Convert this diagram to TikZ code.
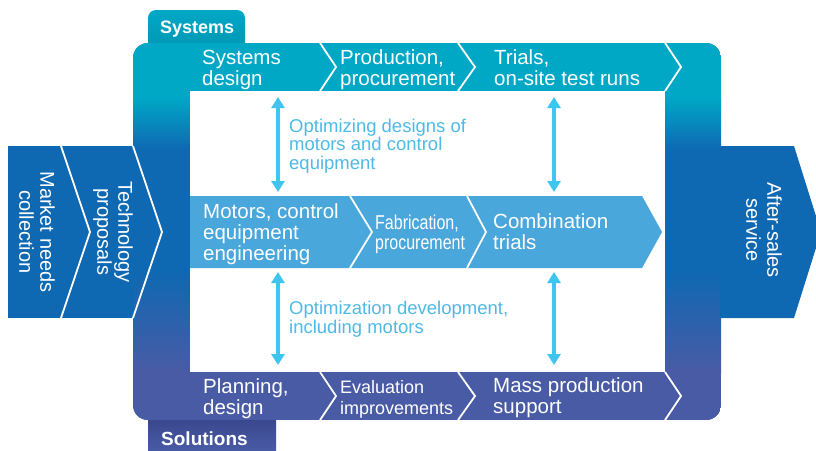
\documentclass[tikz,border=0pt]{standalone}
\usepackage{fontspec}
\setmainfont{Liberation Sans}
\newfontfamily\narrowfont[FakeStretch=0.8]{Liberation Sans}
\usetikzlibrary{arrows.meta}
\definecolor{systeal}{RGB}{0,168,198}
\definecolor{sysdark}{RGB}{0,148,176}
\definecolor{colblue}{RGB}{14,104,178}
\definecolor{solpurple}{RGB}{74,91,166}
\definecolor{soldark}{RGB}{58,72,142}
\definecolor{midblue}{RGB}{74,167,220}
\definecolor{arrowblue}{RGB}{62,197,240}
\definecolor{notetext}{RGB}{78,186,230}
\begin{document}
\begin{tikzpicture}[x=1pt, y=-1pt,
    lbl/.style={font=\fontsize{20.5}{21}\selectfont, text=white, align=left, inner sep=0pt, anchor=base west},
    vlbl/.style={font=\fontsize{20}{21}\selectfont, text=white, align=center, inner sep=0pt, rotate=-90},
    note/.style={font=\fontsize{18.5}{18.5}\selectfont, text=notetext, align=left, inner sep=0pt, anchor=base west},
    tablbl/.style={font=\bfseries\fontsize{18}{18}\selectfont, text=white, inner sep=0pt, anchor=base west},
    sep/.style={draw=white, line width=1.8pt},
    dbl/.style={{Triangle[width=13pt,length=11pt]}-{Triangle[width=13pt,length=11pt]}, line width=4.5pt, draw=arrowblue}]
    \useasboundingbox (0,0) rectangle (816,450);
    % tab on top
    \shade[top color=systeal, bottom color=sysdark, rounded corners=8pt] (148,10) rectangle (245,55);
    % frame with its colour bands
    \begin{scope}
        \clip[rounded corners=15pt] (133,43) rectangle (721,420);
        \fill[colblue] (133,43) rectangle (721,420);
        \fill[systeal] (133,43) rectangle (721,97);
        \shade[top color=systeal, bottom color=colblue] (133,97) rectangle (721,150);
        \shade[top color=colblue, bottom color=solpurple] (133,270) rectangle (721,372);
        \fill[solpurple] (133,372) rectangle (721,420);
    \end{scope}
    \fill[white] (190,91) rectangle (665,372);
    % tab below
    \shade[top color=soldark, bottom color=solpurple] (148,420) rectangle (276,452);
    % arrows in and out
    \fill[colblue] (8,146) rectangle (134,318);
    \fill[colblue] (720,146) -- (794,146) -- (821,232) -- (794,318) -- (720,318) -- cycle;
    % middle row
    \fill[midblue] (190,196) -- (642,196) -- (662,232) -- (642,268) -- (190,268) -- cycle;
    % white separators
    \foreach \a/\b in {320/336, 458/475, 665/681} {
        \draw[sep] (\a,43) -- (\b,67) -- (\a,91);
        \draw[sep] (\a,372) -- (\b,396) -- (\a,420);
    }
    \foreach \a/\b in {350/372, 467/486}
        \draw[sep] (\a,196) -- (\b,232) -- (\a,268);
    \foreach \a/\b in {61/90, 133/162}
        \draw[sep] (\a,146) -- (\b,232) -- (\a,318);
    % labels
    \node[tablbl] (systab) at (160,33) {Systems};
    \node[tablbl, font=\bfseries\fontsize{19}{19}\selectfont] (soltab) at (161,445) {Solutions};
    \node[lbl] (sysdes) at (202,85) {Systems\\design};
    \node[lbl] (prod) at (340,85) {Production,\\procurement};
    \node[lbl] (trials) at (494,85) {Trials,\\on-site test runs};
    \node[lbl] (motors) at (203,260) {Motors, control\\equipment\\engineering};
    \node[lbl, font=\narrowfont\fontsize{20}{20}\selectfont] (fab) at (375,249) {Fabrication,\\procurement};
    \node[lbl] (comb) at (493,249) {Combination\\trials};
    \node[lbl] (plan) at (203,414) {Planning,\\design};
    \node[lbl, font=\fontsize{18}{21}\selectfont] (eval) at (340,414) {Evaluation\\improvements};
    \node[lbl] (mass) at (493,413) {Mass production\\support};
    \node[vlbl] (market) at (37,232) {Market needs\\collection};
    \node[vlbl] (tech) at (113,232) {Technology\\proposals};
    \node[vlbl] (after) at (764,230) {After-sales\\service};
    \node[note] (optdes) at (289,169) {Optimizing designs of\\motors and control\\equipment};
    \node[note] (optdev) at (289,333) {Optimization development,\\including motors};
    % double arrows
    \coordinate (lt1) at (278,97);  \coordinate (lb1) at (278,192);
    \coordinate (lt2) at (278,272); \coordinate (lb2) at (278,365);
    \coordinate (rt1) at (554,97);  \coordinate (rb1) at (554,192);
    \coordinate (rt2) at (554,272); \coordinate (rb2) at (554,365);
    \draw[dbl] (lt1) -- (lb1);
    \draw[dbl] (lt2) -- (lb2);
    \draw[dbl] (rt1) -- (rb1);
    \draw[dbl] (rt2) -- (rb2);
\end{tikzpicture}
\end{document}
